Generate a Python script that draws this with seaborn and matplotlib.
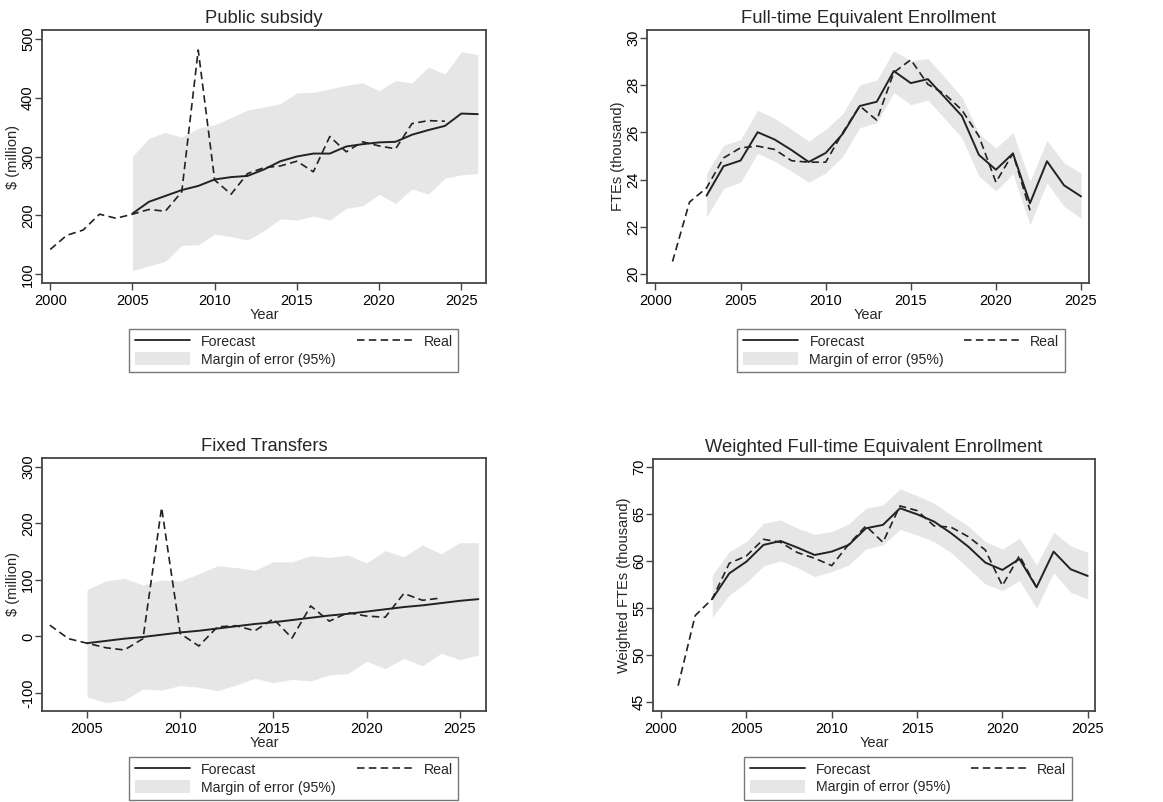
import matplotlib
matplotlib.use("Agg")
import matplotlib.pyplot as plt
import seaborn as sns
import pandas as pd
from matplotlib.lines import Line2D
from matplotlib.patches import Patch

# ---------------- data ----------------
# Public subsidy
ps_real_years = list(range(2000, 2025))
ps_real = [142, 166, 175, 202, 195, 202, 210, 207, 240, 481, 260, 236, 271, 281, 284, 292,
           274, 334, 308, 325, 318, 313, 356, 361, 360]
ps_fc_years = list(range(2005, 2027))
ps_fc = [203, 223, 233, 243, 250, 261, 265, 267, 278, 292, 300, 305, 305, 317, 321, 324,
         325, 337, 345, 352, 373, 372]
ps_up = [300, 331, 341, 333, 348, 354, 366, 379, 384, 390, 408, 409, 415, 421, 425, 412,
         429, 425, 452, 440, 478, 473]
ps_lo = [106, 114, 122, 149, 150, 168, 164, 158, 174, 194, 192, 199, 192, 212, 216, 236,
         220, 245, 236, 263, 269, 271]

# Full-time Equivalent Enrollment
fte_real_years = list(range(2001, 2023))
fte_real = [20.53, 23.05, 23.65, 24.92, 25.35, 25.42, 25.28, 24.80, 24.74, 24.74, 25.99,
            27.12, 26.52, 28.54, 29.08, 28.04, 27.62, 26.95, 25.84, 23.89, 25.11, 22.70]
fte_fc_years = list(range(2003, 2026))
fte_fc = [23.32, 24.57, 24.81, 26.01, 25.70, 25.25, 24.75, 25.13, 25.94, 27.12, 27.30,
          28.60, 28.09, 28.26, 27.48, 26.70, 25.05, 24.42, 25.11, 23.00, 24.78, 23.76, 23.29]
fte_up = [24.26, 25.46, 25.70, 26.94, 26.60, 26.13, 25.63, 26.13, 26.79, 28.01, 28.21,
          29.46, 29.04, 29.13, 28.33, 27.50, 25.95, 25.33, 26.00, 23.93, 25.66, 24.71, 24.28]
fte_lo = [22.41, 23.62, 23.89, 25.11, 24.78, 24.35, 23.89, 24.28, 24.99, 26.20, 26.41,
          27.69, 27.18, 27.37, 26.58, 25.77, 24.15, 23.52, 24.25, 22.09, 23.86, 22.87, 22.37]

# Fixed Transfers
ft_real_years = list(range(2003, 2025))
ft_real = [20, -4, -12, -20, -24, -4, 228, 5, -17, 17, 19, 10, 31, -3, 54, 27, 42, 36, 34,
           76, 64, 68]
ft_fc_years = list(range(2005, 2027))
ft_fc = [-12, -8, -4, -1, 3, 7, 10, 14, 18, 22, 25, 29, 33, 37, 40, 44, 48, 52, 55, 59, 63, 66]
ft_up = [83, 98, 103, 91, 100, 98, 111, 125, 122, 117, 132, 132, 143, 140, 144, 130, 152,
         141, 162, 146, 166, 166]
ft_lo = [-107, -117, -113, -93, -95, -87, -90, -96, -86, -74, -82, -76, -79, -68, -66, -44,
         -57, -39, -52, -30, -41, -33]

# Weighted Full-time Equivalent Enrollment
wfte_real_years = list(range(2001, 2023))
wfte_real = [46.77, 54.22, 56.00, 59.79, 60.57, 62.34, 62.02, 60.92, 60.32, 59.54, 61.81,
             63.76, 62.02, 65.89, 65.39, 63.76, 63.62, 62.62, 61.20, 57.41, 60.60, 57.23]
wfte_fc_years = list(range(2003, 2026))
wfte_fc = [56.00, 58.72, 59.96, 61.74, 62.16, 61.45, 60.67, 61.03, 61.74, 63.51, 63.87,
           65.64, 65.00, 64.22, 62.98, 61.56, 59.86, 59.08, 60.25, 57.23, 61.03, 59.15, 58.44]
wfte_up = [58.55, 61.03, 62.09, 64.04, 64.40, 63.51, 62.87, 63.16, 63.97, 65.64, 65.99,
           67.70, 66.99, 66.17, 64.93, 63.76, 62.09, 61.31, 62.45, 59.61, 63.09, 61.63, 60.96]
wfte_lo = [54.04, 56.42, 57.73, 59.50, 60.04, 59.33, 58.37, 58.90, 59.61, 61.31, 61.74,
           63.40, 62.80, 62.09, 60.92, 59.26, 57.59, 56.88, 57.94, 55.00, 58.79, 56.70, 56.00]

titles = ["Public subsidy", "Full-time Equivalent Enrollment", "Fixed Transfers",
          "Weighted Full-time Equivalent Enrollment"]
ylabels = ["$ (million)", "FTEs (thousand)", "$ (million)", "Weighted FTEs (thousand)"]
legend_labels = ["Forecast", "Margin of error (95%)", "Real"]

# ---------------- style ----------------
sns.set_theme(style="white")
plt.rcParams["font.family"] = ["Liberation Sans", "DejaVu Sans"]
plt.rcParams["axes.edgecolor"] = "#444444"
plt.rcParams["axes.linewidth"] = 1.3
plt.rcParams["xtick.color"] = "#444444"
plt.rcParams["ytick.color"] = "#444444"
plt.rcParams["xtick.labelcolor"] = "black"
plt.rcParams["ytick.labelcolor"] = "black"

BAND = "#e6e6e6"
DASH = (4.5, 2.6)

fig = plt.figure(figsize=(11.63, 8.02), dpi=100)
positions = [
    [0.0361, 0.6471, 0.3818, 0.3155],
    [0.5563, 0.6471, 0.3801, 0.3155],
    [0.0361, 0.1135, 0.3818, 0.3155],
    [0.5615, 0.1135, 0.3801, 0.3142],
]
panels = [
    (ps_real_years, ps_real, ps_fc_years, ps_fc, ps_up, ps_lo,
     (1999.5, 2026.5), (85, 515), [100, 200, 300, 400, 500], [2000, 2005, 2010, 2015, 2020, 2025]),
    (fte_real_years, fte_real, fte_fc_years, fte_fc, fte_up, fte_lo,
     (1999.5, 2025.47), (19.62, 30.34), [20, 22, 24, 26, 28, 30], [2000, 2005, 2010, 2015, 2020, 2025]),
    (ft_real_years, ft_real, ft_fc_years, ft_fc, ft_up, ft_lo,
     (2002.58, 2026.41), (-132, 316), [-100, 0, 100, 200, 300], [2005, 2010, 2015, 2020, 2025]),
    (wfte_real_years, wfte_real, wfte_fc_years, wfte_fc, wfte_up, wfte_lo,
     (1999.53, 2025.43), (44.08, 70.88), [45, 50, 55, 60, 65, 70], [2000, 2005, 2010, 2015, 2020, 2025]),
]
leg_left = [0.196, 0.204, 0.196, 0.206]

for i, (ry, rv, fy, fv, up, lo, xl, yl, yt, xt) in enumerate(panels):
    ax = fig.add_axes(positions[i])
    band_df = pd.DataFrame({"Year": fy, "up": up, "lo": lo})
    ax.fill_between(band_df["Year"], band_df["lo"], band_df["up"], color=BAND, lw=0, zorder=1)
    fc_df = pd.DataFrame({"Year": fy, "value": fv})
    re_df = pd.DataFrame({"Year": ry, "value": rv})
    sns.lineplot(data=re_df, x="Year", y="value", ax=ax, color="#222222", lw=1.2,
                 dashes=False, zorder=3).lines[-1].set_dashes(DASH)
    sns.lineplot(data=fc_df, x="Year", y="value", ax=ax, color="#222222", lw=1.4, zorder=4)
    ax.set_xlim(*xl)
    ax.set_ylim(*yl)
    ax.set_xticks(xt)
    ax.set_yticks(yt)
    ax.set_yticklabels([str(v) for v in yt], rotation=90, va="center")
    ax.tick_params(axis="both", direction="out", length=5, width=1.0, labelsize=10.5)
    ax.tick_params(axis="x", pad=3)
    ax.tick_params(axis="y", pad=0)
    ax.tick_params(left=True, bottom=True)
    ax.set_xlabel("Year", fontsize=10.5, labelpad=0)
    ax.set_ylabel(ylabels[i], fontsize=10.5, labelpad=1)
    ax.set_title(titles[i], fontsize=13.2, pad=5)
    for s in ax.spines.values():
        s.set_visible(True)

    handles = [Line2D([0], [0], color="#222222", lw=1.3),
               Patch(facecolor=BAND, edgecolor="none"),
               Line2D([0], [0], color="#222222", lw=1.2, dashes=DASH)]
    leg = ax.legend(handles, legend_labels, ncol=2, loc="upper left",
                    bbox_to_anchor=(leg_left[i], -0.182, 0.742, 0.0), mode="expand",
                    fontsize=10.2, frameon=True, fancybox=False, edgecolor="#555555",
                    handlelength=3.9, handleheight=1.0, handletextpad=0.8,
                    borderpad=0.4, labelspacing=0.25, columnspacing=1.0,
                    borderaxespad=0.0)
    leg.get_frame().set_linewidth(1.0)
fig.savefig("out.png", dpi=100)
